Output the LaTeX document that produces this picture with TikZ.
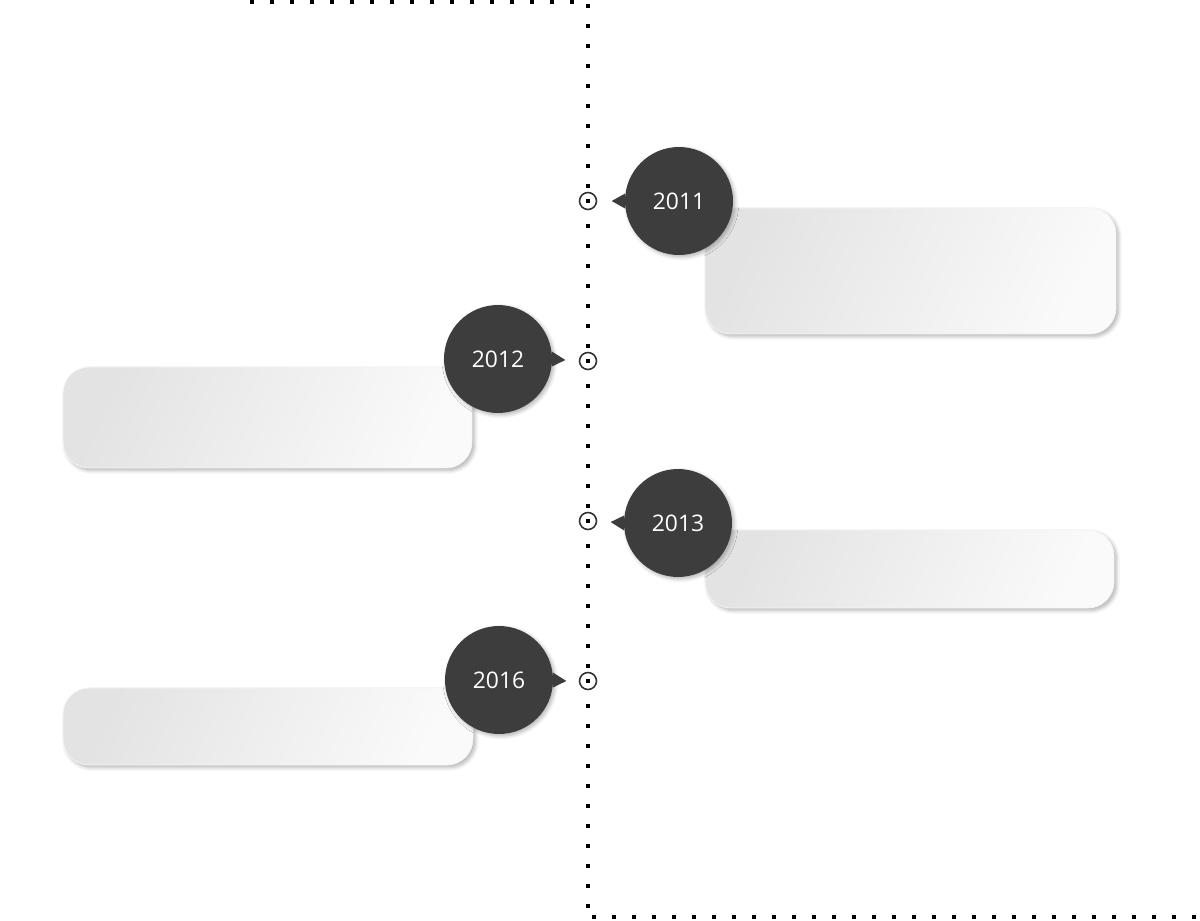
\documentclass[tikz,border=0pt]{standalone}
\usepackage{fontspec}
\setmainfont{Open Sans}
\usetikzlibrary{shadows.blur,calc}
\definecolor{bubblegray}{HTML}{3D3D3D}
\definecolor{boxleft}{HTML}{E4E3E4}
\definecolor{boxright}{HTML}{FAFAFA}
\definecolor{markgray}{HTML}{333333}

\begin{document}
\begin{tikzpicture}[x=0.02cm,y=-0.02cm,
  year/.style={circle,fill=bubblegray,minimum size=2.16cm,inner sep=0pt,text=white,
    font=\fontsize{13}{15}\selectfont,
    blur shadow={shadow xshift=0.04cm,shadow yshift=-0.04cm,shadow blur steps=6,shadow opacity=30}},
  card/.style={rounded corners=0.52cm,left color=boxleft,right color=boxright,shading angle=65,
    draw=gray!8,inner sep=0pt,minimum width=8.2cm,
    blur shadow={shadow xshift=0.05cm,shadow yshift=-0.05cm,shadow blur steps=6,shadow opacity=30}},
  marker/.style={circle,draw=markgray,line width=0.9pt,fill=white,minimum size=0.34cm,inner sep=0pt,
    path picture={\fill[black] ($(path picture bounding box.center)+(-2,-2)$) rectangle ++(4,4);}},
  dots/.style={line width=0.08cm,dash pattern=on 0.08cm off 0.32cm}]
\useasboundingbox (0,0) rectangle (1200,920);
%timeline
\draw[dots] (250,2) -- (588,2) -- (588,915);
\draw[dots] (592,917) -- (1200,917);
%markers
\node[marker] (m2011) at (588,201) {};
\node[marker] (m2012) at (588,361) {};
\node[marker] (m2013) at (588,521) {};
\node[marker] (m2016) at (588,681) {};
%cards
\node[card,minimum width=8.22cm,minimum height=2.52cm] (b2011) at (910.5,271) {};
\node[card,minimum width=8.18cm,minimum height=2.02cm] (b2012) at (267.5,417.5) {};
\node[card,minimum width=8.18cm,minimum height=1.56cm] (b2013) at (909.5,569) {};
\node[card,minimum width=8.2cm,minimum height=1.54cm] (b2016) at (268,726.5) {};
%bubbles
\node[year] (y2011) at (679,201) {2011};
\node[year] (y2012) at (498,359) {2012};
\node[year] (y2013) at (678,523) {2013};
\node[year] (y2016) at (499,680) {2016};
\fill[bubblegray] (y2011.172) -- ($(y2011.west)+(-13,0)$) -- (y2011.188) -- cycle;
\fill[bubblegray] (y2012.8) -- ($(y2012.east)+(13,1)$) -- (y2012.-8) -- cycle;
\fill[bubblegray] (y2013.172) -- ($(y2013.west)+(-13,-1)$) -- (y2013.188) -- cycle;
\fill[bubblegray] (y2016.8) -- ($(y2016.east)+(13,1)$) -- (y2016.-8) -- cycle;
\end{tikzpicture}
\end{document}
